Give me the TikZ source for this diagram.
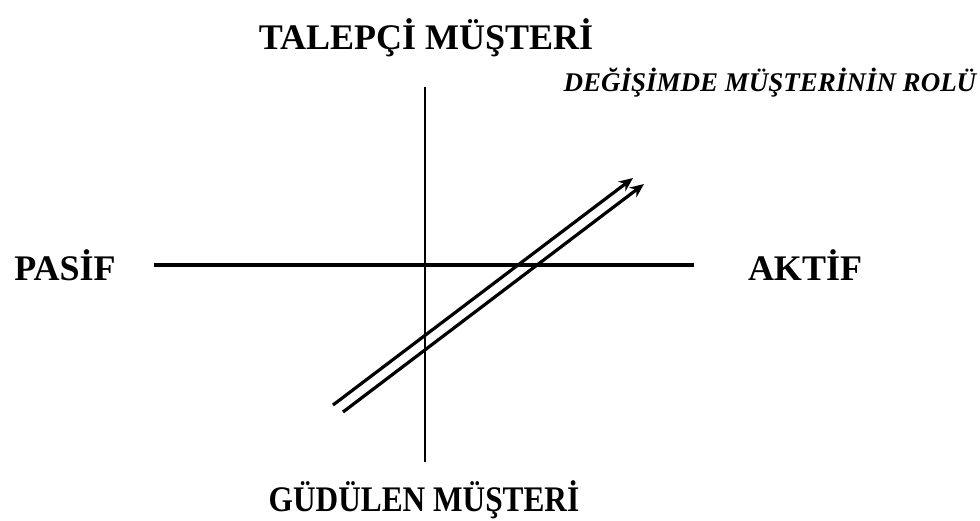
\documentclass[tikz,border=0pt]{standalone}
\usepackage{fontspec}
\setmainfont{Liberation Serif}
\usetikzlibrary{arrows.meta}

\begin{document}
\begin{tikzpicture}[x=0.5pt,y=-0.5pt,>=Stealth,
  pole/.style={font=\bfseries\fontsize{18}{21}\selectfont},
  role/.style={font=\bfseries\itshape\fontsize{13.5}{16}\selectfont},
  rolearrow/.style={line width=1.6pt,-{Stealth[length=7pt,width=6pt]}}]
\useasboundingbox(0,0)rectangle(980,520);
\coordinate(top)at(425,87);
\coordinate(bottom)at(425,462);
\coordinate(left)at(154,265);
\coordinate(right)at(694,265);
\coordinate(a1)at(333,405);
\coordinate(a2)at(633,178);
\coordinate(b1)at(343,412);
\coordinate(b2)at(644,184);
\draw[line width=1.4pt](top)--(bottom);
\draw[line width=2.4pt](left)--(right);
\draw[rolearrow](a1)--(a2);
\draw[rolearrow](b1)--(b2);
\node[pole](talep)at(426,38){TALEPÇİ MÜŞTERİ};
\node[pole,xscale=0.87](gudul)at(424,500){GÜDÜLEN MÜŞTERİ};
\node[pole](pasif)at(65,265){PASİF};
\node[pole](aktif)at(805,265){AKTİF};
\node[role](rol)at(770,83){DEĞİŞİMDE MÜŞTERİNİN ROLÜ};
\end{tikzpicture}
\end{document}
